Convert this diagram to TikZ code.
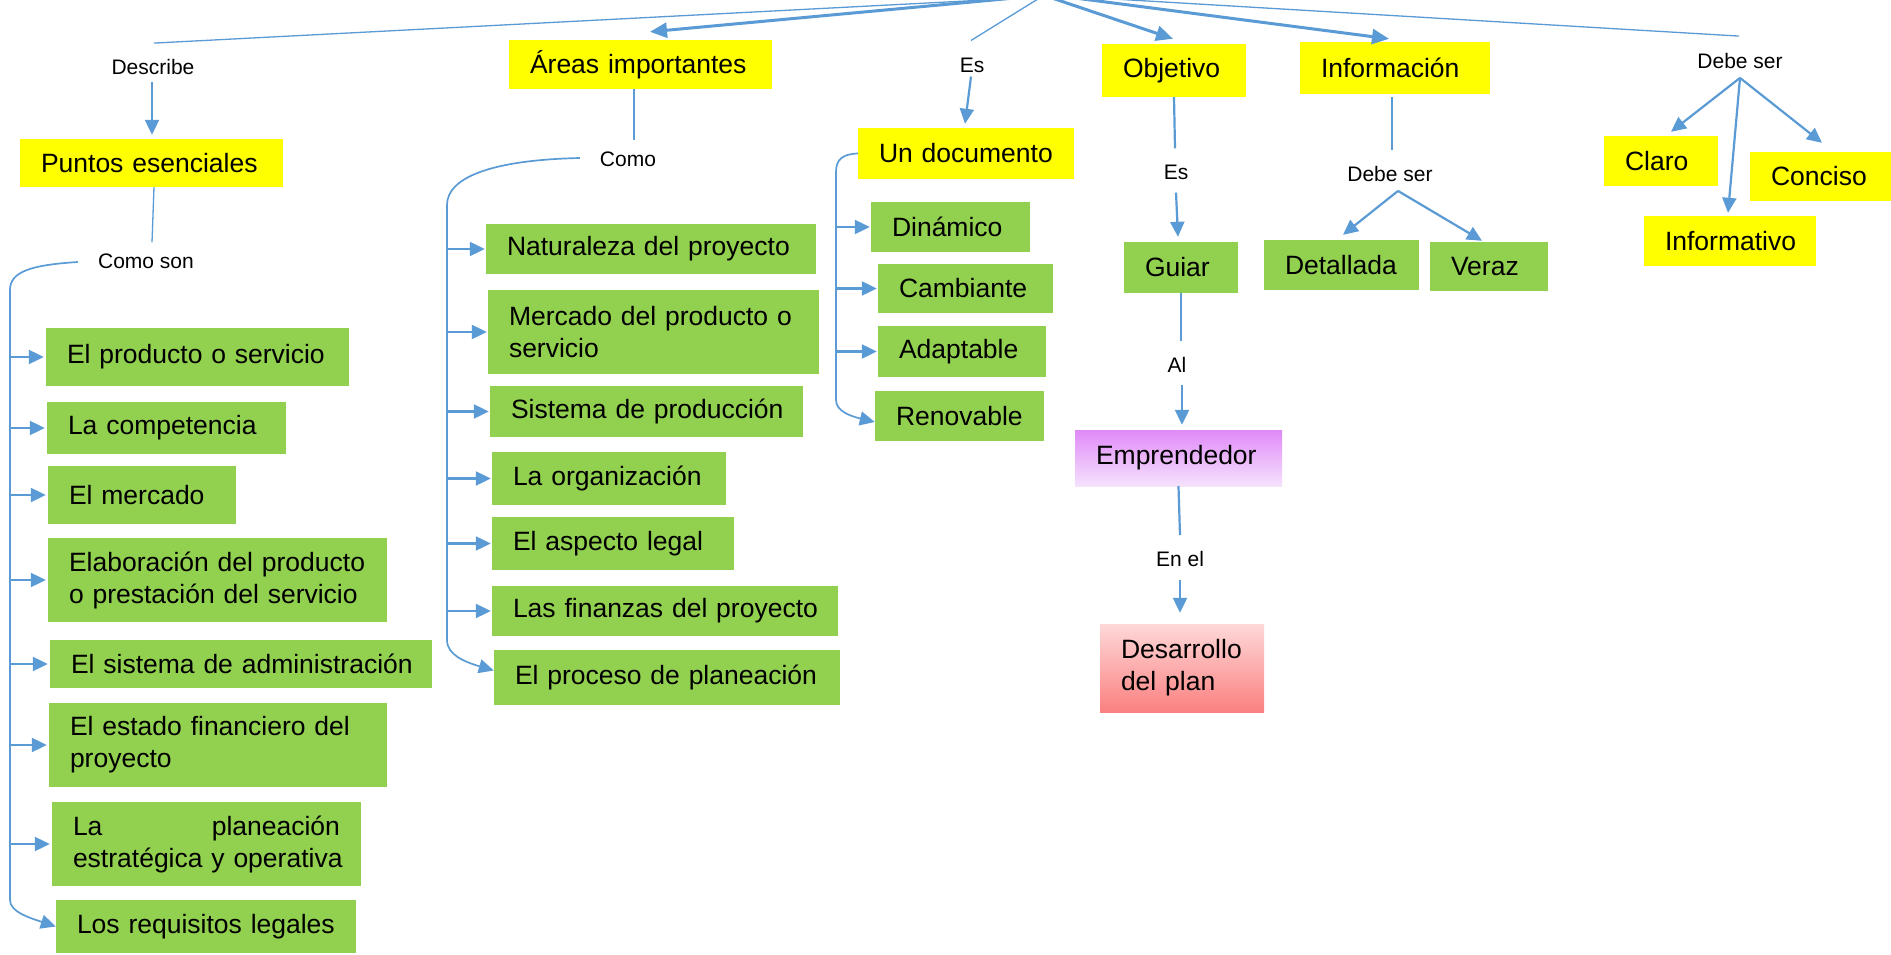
\documentclass[tikz,border=0pt]{standalone}
\usepackage{fontspec}
\setmainfont{Liberation Sans}
\usetikzlibrary{arrows.meta,calc}

\definecolor{linkblue}{HTML}{5B9BD5}
\definecolor{boxyellow}{HTML}{FFFF00}
\definecolor{boxgreen}{HTML}{92D050}
\definecolor{purpletop}{HTML}{E08AF8}
\definecolor{purplebot}{HTML}{F5E2FC}
\definecolor{redtop}{HTML}{FED8D8}
\definecolor{redbot}{HTML}{FB8080}

% box text never hyphenates; long lines may run slightly past the text width
\newcommand\cardfont{\fontsize{26.5}{32}\selectfont\hyphenpenalty=10000\exhyphenpenalty=10000\hbadness=10000\hfuzz=40pt}
\newcommand\tagtextfont{\fontsize{21}{25}\selectfont}

\tikzset{
  card/.style={inner xsep=21pt, inner ysep=0pt, align=left, font=\cardfont, text=black},
  yelbox/.style={card, fill=boxyellow},
  grnbox/.style={card, fill=boxgreen},
  tag/.style={inner sep=0pt, font=\tagtextfont},
  thinlink/.style={draw=linkblue, line width=1.3pt},
  spine/.style={draw=linkblue, line width=1.7pt},
  midline/.style={draw=linkblue, line width=2.2pt},
  link/.style={draw=linkblue, line width=2.2pt, -{Triangle[length=15pt,width=14pt]}},
  boldlink/.style={draw=linkblue, line width=3pt, -{Triangle[length=17pt,width=15pt]}},
}

\begin{document}
\begin{tikzpicture}[x=1pt,y=-1pt]
\path[use as bounding box, fill=white] (0,0) rectangle (1891,955);

% ---------- yellow headings ----------
\node[yelbox, text width=221pt, minimum height=48pt] (puntos) at (151.5,163) {Puntos~esenciales};
\node[yelbox, text width=221pt, minimum height=49pt] (areas) at (640.5,64.5) {Áreas~importantes};
\node[yelbox, text width=174pt, minimum height=51pt] (undoc) at (966,153.5) {Un~documento};
\node[yelbox, text width=102pt, minimum height=53pt] (objetivo) at (1174,70.5) {Objetivo};
\node[yelbox, text width=148pt, minimum height=52pt] (informacion) at (1395,68) {Información};
\node[yelbox, text width=72pt, minimum height=50pt] (claro) at (1661,161) {Claro};
\node[yelbox, text width=99pt, minimum height=49pt] (conciso) at (1820.5,176.5) {Conciso};
\node[yelbox, text width=130pt, minimum height=50pt] (informativo) at (1730,241) {Informativo};

% ---------- essential points ----------
\node[grnbox, text width=261pt, minimum height=58pt] (producto) at (197.5,357) {El~producto~o~servicio};
\node[grnbox, text width=197pt, minimum height=52pt] (competencia) at (166.5,428) {La~competencia};
\node[grnbox, text width=146pt, minimum height=58pt] (mercado) at (142,495) {El~mercado};
\node[grnbox, text width=297pt, minimum height=84pt] (elaboracion) at (217.5,580) {Elaboración~del~producto\\o~prestación~del~servicio};
\node[grnbox, text width=340pt, minimum height=48pt] (sistadm) at (241,664) {El~sistema~de~administración};
\node[grnbox, text width=296pt, minimum height=84pt] (estado) at (218,745) {El~estado~financiero~del\\proyecto};
\node[grnbox, text width=267pt, minimum height=84pt] (planeacion) at (206.5,844) {La\hfill planeación\\estratégica~y~operativa};
\node[grnbox, text width=258pt, minimum height=53pt] (requisitos) at (206,926.5) {Los~requisitos~legales};

% ---------- important areas ----------
\node[grnbox, text width=288pt, minimum height=50pt] (naturaleza) at (651,249) {Naturaleza~del~proyecto};
\node[grnbox, text width=289pt, minimum height=84pt] (mercadoprod) at (653.5,332) {Mercado~del~producto~o\\servicio};
\node[grnbox, text width=271pt, minimum height=51pt] (sistprod) at (646.5,411.5) {Sistema~de~producción};
\node[grnbox, text width=192pt, minimum height=53pt] (organizacion) at (609,478.5) {La~organización};
\node[grnbox, text width=200pt, minimum height=53pt] (legal) at (613,543.5) {El~aspecto~legal};
\node[grnbox, text width=304pt, minimum height=50pt] (finanzas) at (665,611) {Las~finanzas~del~proyecto};
\node[grnbox, text width=304pt, minimum height=55pt] (proceso) at (667,677.5) {El~proceso~de~planeación};

% ---------- document qualities ----------
\node[grnbox, text width=117pt, minimum height=50pt] (dinamico) at (950.5,227) {Dinámico};
\node[grnbox, text width=133pt, minimum height=49pt] (cambiante) at (965.5,288.5) {Cambiante};
\node[grnbox, text width=126pt, minimum height=51pt] (adaptable) at (962,351.5) {Adaptable};
\node[grnbox, text width=127pt, minimum height=50pt] (renovable) at (959.5,416) {Renovable};

% ---------- objective chain ----------
\node[grnbox, text width=72pt, minimum height=51pt] (guiar) at (1181,267.5) {Guiar};
\node[card, top color=purpletop, bottom color=purplebot, text width=165pt, minimum height=56pt] (emprendedor) at (1178.5,458) {Emprendedor};
\node[card, top color=redtop, bottom color=redbot, text width=122pt, minimum height=88pt] (desarrollo) at (1182,668) {Desarrollo\\del~plan};

% ---------- information ----------
\node[grnbox, text width=113pt, minimum height=50pt] (detallada) at (1341.5,265) {Detallada};
\node[grnbox, text width=76pt, minimum height=49pt] (veraz) at (1489,266.5) {Veraz};

% ---------- linking words ----------
\node[tag] (describe) at (153,67) {Describe};
\node[tag] (comoson) at (146,261) {Como son};
\node[tag] (como) at (628,159) {Como};
\node[tag] (es1) at (972,65) {Es};
\node[tag] (es2) at (1176,172) {Es};
\node[tag] (al) at (1177,365) {Al};
\node[tag] (enel) at (1180,559) {En el};
\node[tag] (debeinfo) at (1390,174) {Debe ser};
\node[tag] (deberight) at (1740,61) {Debe ser};

% ---------- links from the root above the page ----------
\coordinate (rootDesc) at (1101,-6);
\coordinate (rootAreas) at (1058,-6);
\coordinate (rootEs) at (1046,-6);
\coordinate (rootObj) at (1040,-6);
\coordinate (rootInfo) at (1044,-6);
\coordinate (rootDebe) at (1029,-6);

\draw[thinlink] (rootDesc) -- ($(describe.north)+(1,-16)$);
\draw[boldlink] (rootAreas) -- ($(areas.north)+(9.5,-8)$);
\draw[thinlink] (rootEs) -- ($(es1.north)+(-1,-17)$);
\draw[boldlink] (rootObj) -- ($(objetivo.north)+(-1,-5)$);
\draw[boldlink] (rootInfo) -- ($(informacion.north)+(-6,-3)$);
\draw[thinlink] (rootDebe) -- ($(deberight.north)+(-1,-17)$);

% ---------- essential points branch ----------
\draw[link] ($(describe.south)+(-1,7)$) -- ($(puntos.north)+(0.5,-4)$);
\draw[thinlink] ($(puntos.south)+(2.5,0)$) -- ($(comoson.north)+(6,-11)$);
\coordinate (leftspine) at (10,290);
\draw[spine, -{Triangle[length=15pt,width=14pt]}] ($(comoson.west)+(-20,1)$)
  .. controls (30,265) and (10,272) .. (leftspine) -- (10,900)
  .. controls (10,912) and (30,918) .. (requisitos.west);
\foreach \b in {producto,competencia,mercado,elaboracion,sistadm,estado,planeacion}
  \draw[link, shorten >=2pt] (\b.west -| leftspine) -- (\b.west);

% ---------- important areas branch ----------
\draw[thinlink] ($(areas.south)+(-6.5,0)$) -- ($(como.north)+(6,-11)$);
\coordinate (midspine) at (447,205);
\draw[spine, -{Triangle[length=15pt,width=14pt]}] ($(como.west)+(-20,-1)$)
  .. controls (490,160) and (447,178) .. (midspine) -- (447,640)
  .. controls (447,655) and (465,662) .. ($(proceso.west)+(0,-7)$);
\foreach \b in {naturaleza,mercadoprod,sistprod,organizacion,legal,finanzas}
  \draw[link, shorten >=1pt] (\b.west -| midspine) -- (\b.west);

% ---------- document branch ----------
\draw[link] ($(es1.south)+(-1,4)$) -- ($(undoc.north)+(-1,-4)$);
\coordinate (docspine) at (836,172);
\draw[spine, -{Triangle[length=15pt,width=14pt]}] (undoc.west)
  .. controls (842,154) and (836,160) .. (docspine) -- (836,400)
  .. controls (836,411) and (850,416) .. ($(renovable.west)+(0,6)$);
\foreach \b in {dinamico,cambiante,adaptable}
  \draw[link, shorten >=1pt] (\b.west -| docspine) -- (\b.west);

% ---------- objective chain ----------
\draw[midline] (objetivo.south) -- ($(es2.north)+(-1,-16)$);
\draw[link] ($(es2.south)+(0,13)$) -- ($(guiar.north)+(-3,-5)$);
\draw[midline] (guiar.south) -- ($(al.north)+(4,-16)$);
\draw[link] ($(al.south)+(5,12)$) -- ($(emprendedor.north)+(3.5,-5)$);
\draw[midline] (emprendedor.south) -- ($(enel.north)+(0,-16)$);
\draw[link] ($(enel.south)+(0,13)$) -- ($(desarrollo.north)+(-2,-11)$);

% ---------- information branch ----------
\draw[thinlink] ($(informacion.south)+(-3,3)$) -- ($(debeinfo.north)+(2,-16)$);
\draw[link] ($(debeinfo.south)+(8,9)$) -- ($(detallada.north)+(1.5,-5)$);
\draw[link] ($(debeinfo.south)+(8,9)$) -- ($(veraz.north)+(-7,-1)$);

% ---------- right branch ----------
\draw[link] ($(deberight.south)+(0,9)$) -- ($(claro.north)+(10,-4)$);
\draw[link] ($(deberight.south)+(0,9)$) -- ($(informativo.north)+(-2,-3)$);
\draw[link] ($(deberight.south)+(0,9)$) -- ($(conciso.north)+(1.5,-9)$);

\end{tikzpicture}
\end{document}
